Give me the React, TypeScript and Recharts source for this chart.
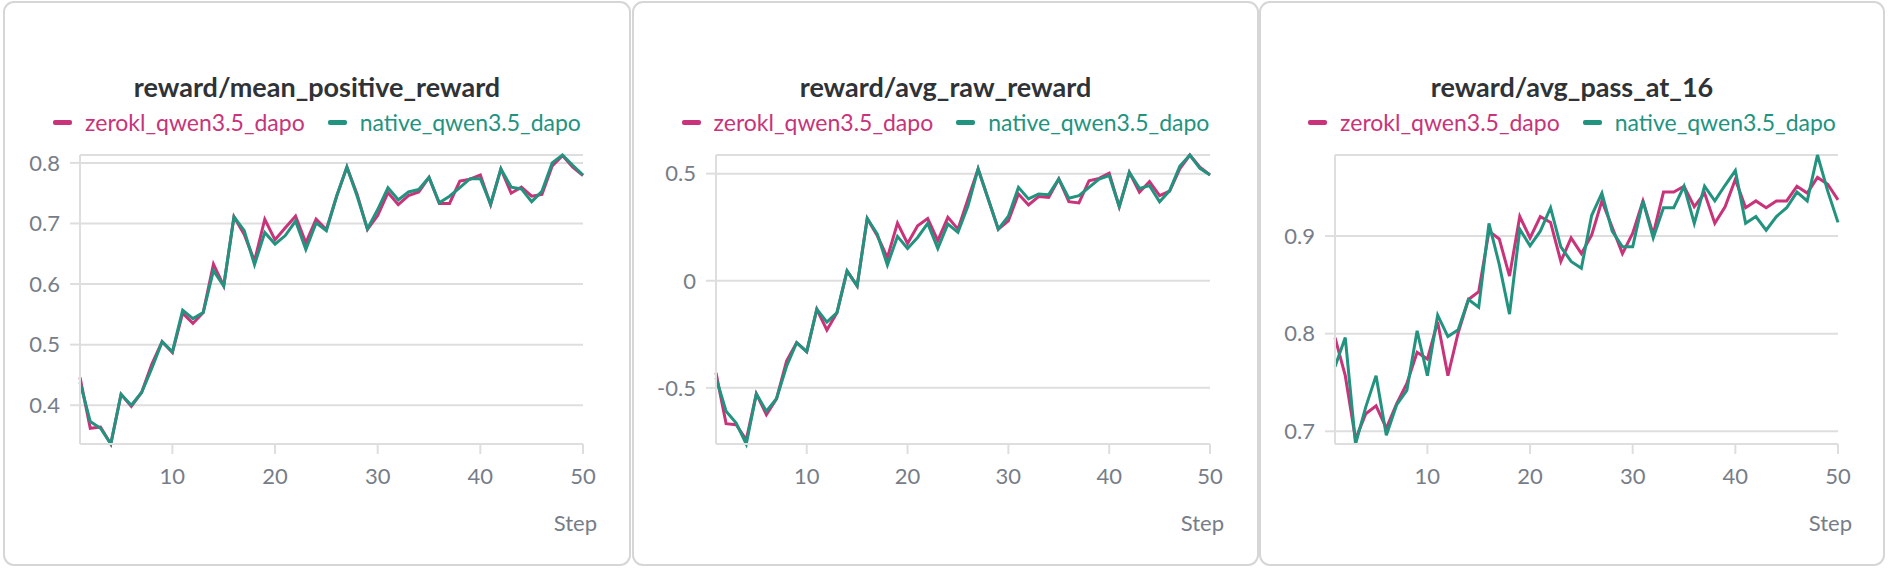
import React from 'react';
import { LineChart, Line, XAxis, YAxis, CartesianGrid } from 'recharts';

const steps = [
  1, 2, 3, 4, 5, 6, 7, 8, 9, 10, 11, 12, 13, 14, 15, 16, 17, 18, 19, 20, 21, 22, 23, 24, 25,
  26, 27, 28, 29, 30, 31, 32, 33, 34, 35, 36, 37, 38, 39, 40, 41, 42, 43, 44, 45, 46, 47, 48, 49, 50,
];
const stepTicks = [10, 20, 30, 40, 50];

// reward/mean_positive_reward
const meanPosZerokl = [
  0.446, 0.362, 0.364, 0.336, 0.418, 0.398, 0.421, 0.468, 0.505, 0.487,
  0.552, 0.535, 0.553, 0.633, 0.597, 0.711, 0.682, 0.638, 0.707, 0.673,
  0.693, 0.712, 0.668, 0.707, 0.69, 0.745, 0.793, 0.748, 0.69, 0.713,
  0.751, 0.731, 0.746, 0.752, 0.776, 0.733, 0.733, 0.77, 0.773, 0.78,
  0.731, 0.79, 0.75, 0.76, 0.745, 0.748, 0.795, 0.812, 0.793, 0.779,
];
const meanPosNative = [
  0.438, 0.373, 0.362, 0.336, 0.418, 0.4, 0.421, 0.461, 0.505, 0.488,
  0.557, 0.543, 0.553, 0.622, 0.597, 0.711, 0.688, 0.632, 0.685, 0.666,
  0.68, 0.704, 0.657, 0.701, 0.688, 0.745, 0.793, 0.745, 0.691, 0.723,
  0.759, 0.739, 0.752, 0.756, 0.776, 0.734, 0.745, 0.759, 0.774, 0.774,
  0.732, 0.79, 0.76, 0.757, 0.736, 0.753, 0.8, 0.813, 0.796, 0.78,
];
const meanPosTicks = [0.4, 0.5, 0.6, 0.7, 0.8];

// reward/avg_raw_reward
const rawZerokl = [
  -0.43, -0.667, -0.672, -0.742, -0.528, -0.625, -0.551, -0.375, -0.289, -0.331,
  -0.133, -0.23, -0.149, 0.046, -0.024, 0.291, 0.21, 0.108, 0.269, 0.174,
  0.257, 0.29, 0.187, 0.296, 0.241, 0.382, 0.522, 0.382, 0.241, 0.28,
  0.405, 0.354, 0.393, 0.389, 0.475, 0.369, 0.363, 0.467, 0.478, 0.502,
  0.346, 0.506, 0.413, 0.463, 0.397, 0.418, 0.522, 0.587, 0.53, 0.494,
];
const rawNative = [
  -0.453, -0.609, -0.664, -0.762, -0.528, -0.609, -0.551, -0.399, -0.289, -0.331,
  -0.133, -0.193, -0.149, 0.046, -0.024, 0.291, 0.218, 0.073, 0.207, 0.151,
  0.202, 0.268, 0.151, 0.265, 0.226, 0.35, 0.522, 0.382, 0.241, 0.301,
  0.436, 0.382, 0.405, 0.402, 0.475, 0.385, 0.397, 0.436, 0.475, 0.491,
  0.346, 0.506, 0.431, 0.444, 0.369, 0.421, 0.534, 0.587, 0.525, 0.494,
];
const rawTicks = [-0.5, 0, 0.5];

// reward/avg_pass_at_16
const passZerokl = [
  0.796, 0.757, 0.692, 0.718, 0.726, 0.703, 0.728, 0.749, 0.781, 0.774,
  0.812, 0.757, 0.801, 0.835, 0.843, 0.905, 0.897, 0.859, 0.92, 0.898,
  0.92, 0.914, 0.874, 0.898, 0.882, 0.901, 0.936, 0.909, 0.882, 0.903,
  0.936, 0.902, 0.945, 0.945, 0.951, 0.93, 0.944, 0.913, 0.93, 0.958,
  0.929, 0.936, 0.929, 0.936, 0.936, 0.951, 0.944, 0.96, 0.953, 0.937,
];
const passNative = [
  0.766, 0.796, 0.687, 0.725, 0.757, 0.696, 0.727, 0.742, 0.803, 0.757,
  0.819, 0.797, 0.804, 0.835, 0.827, 0.913, 0.871, 0.82, 0.907, 0.89,
  0.905, 0.929, 0.889, 0.874, 0.867, 0.921, 0.944, 0.905, 0.889, 0.889,
  0.936, 0.898, 0.929, 0.929, 0.951, 0.913, 0.951, 0.936, 0.952, 0.967,
  0.913, 0.92, 0.906, 0.92, 0.929, 0.945, 0.936, 0.983, 0.946, 0.914,
];
const passTicks = [0.7, 0.8, 0.9];

const PINK = '#c8337a';
const TEAL = '#22937f';
const GRID = '#dedede';
const TICK = '#767d88';
const FONT = 'Lato, "Noto Sans", sans-serif';

type PanelProps = {
  left: number;
  width: number;
  title: string;
  zerokl: number[];
  native: number[];
  yTicks: number[];
  axisWidth: number;
  rightMargin: number;
};

const PANEL_H = 565;

const Panel = ({ left, width, title, zerokl, native, yTicks, axisWidth, rightMargin }: PanelProps) => {
  const rows = steps.map((s, i) => ({ step: s, zerokl: zerokl[i], native: native[i] }));
  const chartW = width - 4;
  const chartH = PANEL_H - 4;

  return (
    <div
      style={{
        position: 'absolute',
        left,
        top: 1,
        width,
        height: PANEL_H,
        boxSizing: 'border-box',
        border: '2px solid #d6d6d6',
        borderRadius: 11,
        background: '#fff',
      }}
    >
      <div
        style={{
          position: 'absolute',
          left: 0,
          top: 67,
          width: chartW,
          textAlign: 'center',
          fontSize: 27,
          lineHeight: '34px',
          fontWeight: 700,
          color: '#2f3337',
        }}
      >
        {title}
      </div>
      <div
        style={{
          position: 'absolute',
          left: 0,
          top: 104,
          width: chartW,
          display: 'flex',
          justifyContent: 'center',
          fontSize: 23,
          lineHeight: '30px',
        }}
      >
        {[
          { name: 'zerokl_qwen3.5_dapo', color: PINK },
          { name: 'native_qwen3.5_dapo', color: TEAL },
        ].map((it, i) => (
          <div key={it.name} style={{ display: 'flex', alignItems: 'center', marginLeft: i ? 23 : 0 }}>
            <span
              style={{
                display: 'inline-block',
                width: 19,
                height: 5,
                borderRadius: 2,
                background: it.color,
                marginRight: 13,
              }}
            />
            <span style={{ color: it.color }}>{it.name}</span>
          </div>
        ))}
      </div>
      <div style={{ position: 'absolute', left: 0, top: 0 }}>
        <LineChart
          width={chartW}
          height={chartH}
          data={rows}
          margin={{ top: 152, right: rightMargin, bottom: 0, left: 0 }}
        >
          <CartesianGrid vertical={false} stroke={GRID} strokeWidth={2} />
          <XAxis
            dataKey="step"
            type="number"
            domain={[1, 50]}
            ticks={stepTicks}
            height={120}
            tickSize={10}
            tickMargin={14}
            axisLine={{ stroke: GRID, strokeWidth: 2 }}
            tickLine={{ stroke: GRID, strokeWidth: 2 }}
            tick={{ fill: TICK, fontSize: 22, fontFamily: FONT }}
            label={(p: any) => {
              const vb = p.viewBox || {};
              return (
                <text
                  x={vb.x + vb.width + 14}
                  y={vb.y + 87}
                  textAnchor="end"
                  fill={TICK}
                  fontSize={22}
                  fontFamily={FONT}
                >
                  Step
                </text>
              );
            }}
          />
          <YAxis
            type="number"
            domain={['dataMin', 'dataMax']}
            ticks={yTicks}
            width={axisWidth}
            tickSize={10}
            tickMargin={10}
            axisLine={{ stroke: GRID, strokeWidth: 2 }}
            tickLine={{ stroke: GRID, strokeWidth: 2 }}
            tick={{ fill: TICK, fontSize: 22, fontFamily: FONT }}
          />
          <Line
            dataKey="zerokl"
            stroke={PINK}
            strokeWidth={3}
            dot={false}
            isAnimationActive={false}
          />
          <Line
            dataKey="native"
            stroke={TEAL}
            strokeWidth={3}
            dot={false}
            isAnimationActive={false}
          />
        </LineChart>
      </div>
    </div>
  );
};

export default function App() {
  return (
    <div
      style={{
        position: 'absolute',
        left: 0,
        top: 0,
        width: 1892,
        height: 572,
        background: '#fff',
        fontFamily: FONT,
        overflow: 'hidden',
      }}
    >
      <Panel
        left={3}
        width={628}
        title="reward/mean_positive_reward"
        zerokl={meanPosZerokl}
        native={meanPosNative}
        yTicks={meanPosTicks}
        axisWidth={75}
        rightMargin={46}
      />
      <Panel
        left={632}
        width={627}
        title="reward/avg_raw_reward"
        zerokl={rawZerokl}
        native={rawNative}
        yTicks={rawTicks}
        axisWidth={82}
        rightMargin={47}
      />
      <Panel
        left={1259}
        width={626}
        title="reward/avg_pass_at_16"
        zerokl={passZerokl}
        native={passNative}
        yTicks={passTicks}
        axisWidth={74}
        rightMargin={45}
      />
    </div>
  );
}
